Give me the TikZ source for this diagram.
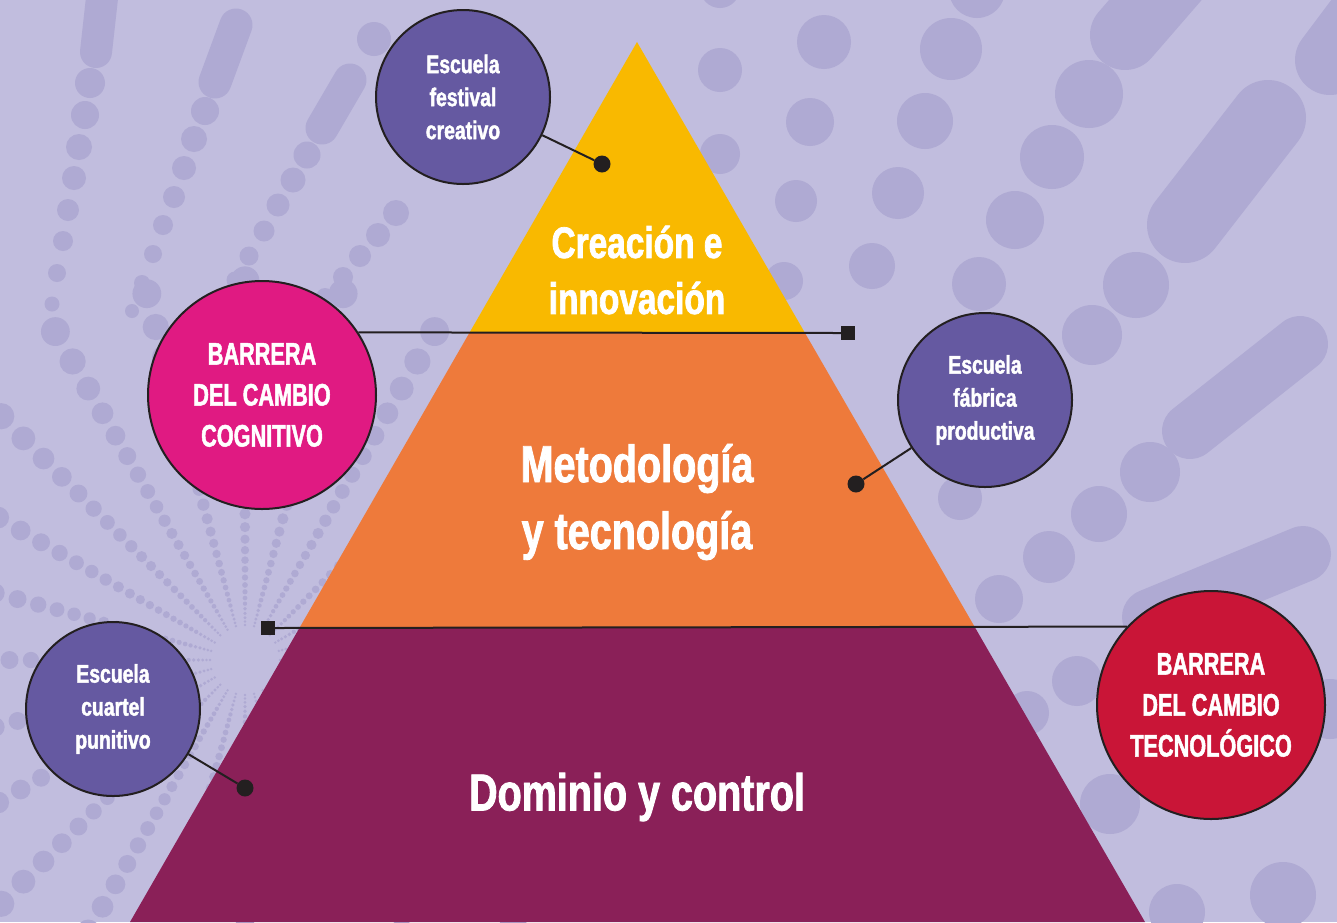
\documentclass[tikz,border=0pt]{standalone}
\usepackage{fontspec}
\newfontfamily\cf[FakeStretch=0.76,BoldFeatures={FakeBold=1.6}]{Liberation Sans}
\newfontfamily\cfc[FakeStretch=0.70,BoldFeatures={FakeBold=1.6}]{Liberation Sans}
\definecolor{bgcol}{HTML}{C1BDDE}
\definecolor{decocol}{HTML}{AFAAD3}
\definecolor{ylw}{HTML}{F9B900}
\definecolor{org}{HTML}{EE7A3B}
\definecolor{mar}{HTML}{8A2058}
\definecolor{purp}{HTML}{6559A1}
\definecolor{pnk}{HTML}{E01A82}
\definecolor{rd}{HTML}{C91537}
\definecolor{edge}{HTML}{231F20}
\tikzset{
  deco/.style={fill=decocol},
  capsule/.style={draw=decocol, line cap=round, line width=#1pt},
  bubble/.style={circle, draw=edge, line width=2pt, inner sep=0pt, text=white, align=center},
  school/.style={bubble, fill=purp, minimum size=174pt, font=\cf\bfseries\fontsize{25.5}{33}\selectfont},
  barrier/.style={bubble, minimum size=228pt, font=\cfc\bfseries\fontsize{31}{41}\selectfont},
  dotend/.style={circle, fill=edge, minimum size=17pt, inner sep=0pt},
  sqend/.style={rectangle, fill=edge, minimum size=14pt, inner sep=0pt},
  link/.style={draw=edge, line width=2pt},
  tier/.style={text=white, align=center, inner sep=0pt},
}
\begin{document}
\begin{tikzpicture}[x=1pt,y=-1pt]
\fill[bgcol] (0,0) rectangle (1337,922);
\useasboundingbox (0,0) rectangle (1337,922);
\begin{scope}
\clip (0,0) rectangle (1337,922);
% starburst lower left
\foreach \a in {0,15,...,345} {
  \foreach \n in {0,...,25} {
    \pgfmathsetmacro\d{35*1.1^\n}
    \pgfmathsetmacro\r{0.038*\d}
    \fill[deco] ({245+\d*cos(\a)},{660-\d*sin(\a)}) circle[radius=\r pt];
  }
}
% top-left dotted arcs
\draw[capsule=32] (104,-20) -- (96,52);
\foreach \p/\r in {{(90,83)}/15,{(85,115)}/14,{(79,147)}/13,{(74,178)}/12,{(68,210)}/11,{(63,241)}/10,{(57,273)}/9,{(52,304)}/7.5}
  \fill[deco] \p circle[radius=\r pt];
\draw[capsule=33] (236,25) -- (215,82);
\foreach \p/\r in {{(205,111)}/14,{(194,139)}/13,{(184,168)}/12,{(174,197)}/11,{(163,225)}/10,{(153,254)}/9,{(142,283)}/8,{(132,311)}/7}
  \fill[deco] \p circle[radius=\r pt];
\draw[capsule=33] (350,80) -- (322,128);
\foreach \p/\r in {{(307,155)}/13.5,{(293,180)}/12.5,{(278,205)}/11.5,{(264,231)}/10.5,{(249,256)}/9.5,{(235,280)}/8.5}
  \fill[deco] \p circle[radius=\r pt];
\fill[deco] (374,39) circle[radius=17pt];
\foreach \p/\r in {{(396,213)}/13,{(378,235)}/12,{(360,256)}/11,{(343,277)}/10,{(325,297)}/9}
  \fill[deco] \p circle[radius=\r pt];
% right side dots
\foreach \p/\r in {{(720,-12)}/20,{(977,-10)}/28,{(720,70)}/22,{(824,42)}/27,{(951,49)}/31,{(720,154)}/20,{(810,122)}/24,{(925,121)}/28,{(1089,94)}/34,
  {(796,201)}/21,{(898,193)}/26,{(1052,157)}/32,{(784,281)}/19,{(872,266)}/23,{(1015,220)}/29,{(979,284)}/27,{(1136,285)}/33,
  {(1092,335)}/30,{(1150,472)}/30,{(1099,514)}/28,{(1049,557)}/26,{(999,599)}/24,{(960,498)}/22,{(1077,681)}/25,{(1027,713)}/22,
  {(1110,804)}/30,{(1283,895)}/33,{(1177,912)}/28,{(1330,709)}/30}
  \fill[deco] \p circle[radius=\r pt];
\draw[capsule=70] (1125,35) -- (1190,-40);
\draw[capsule=76] (1185,225) -- (1268,118);
\draw[capsule=56] (1190,431) -- (1300,344);
\draw[capsule=56] (1150,617) -- (1303,554);
\draw[capsule=70] (1330,60) -- (1360,20);
\end{scope}
% pyramid
\fill[ylw] (637,42) -- (805,333) -- (469.3,333) -- cycle;
\fill[org] (469.3,333) -- (805,333) -- (975.3,628) -- (299.4,628) -- cycle;
\fill[mar] (299.4,628) -- (975.3,628) -- (1145,922) -- (130,922) -- cycle;
\node[tier, font=\cf\bfseries\fontsize{44}{56}\selectfont] (t1) at (637,270) {Creación e\\innovación};
\node[tier, font=\cf\bfseries\fontsize{52}{67}\selectfont] (t2) at (637,502) {Metodología\\y tecnología};
\node[tier, font=\cf\bfseries\fontsize{52}{67}\selectfont] (t3) at (637,797) {Dominio y control};
% bubbles
\node[school] (fest) at (463,97) {Escuela\\festival\\creativo};
\node[school] (fab) at (985,400) {Escuela\\fábrica\\productiva};
\node[school] (cuar) at (113,709) {Escuela\\cuartel\\punitivo};
\node[barrier, fill=pnk] (cog) at (262,395) {BARRERA\\DEL CAMBIO\\COGNITIVO};
\node[barrier, fill=rd] (tec) at (1211,705) {BARRERA\\DEL CAMBIO\\TECNOLÓGICO};
% ends
\node[dotend] (d1) at (602,164) {};
\node[dotend] (d2) at (856,484) {};
\node[dotend] (d3) at (245,788) {};
\node[sqend] (s1) at (848,333) {};
\node[sqend] (s2) at (268,628) {};
% connectors
\draw[link] (fest) -- (d1);
\draw[link] (fab) -- (d2);
\draw[link] (cuar) -- (d3);
\draw[link] (cog.33) -- (s1.west);
\draw[link] (s2.east) -- (tec.137.5);
\end{tikzpicture}
\end{document}
